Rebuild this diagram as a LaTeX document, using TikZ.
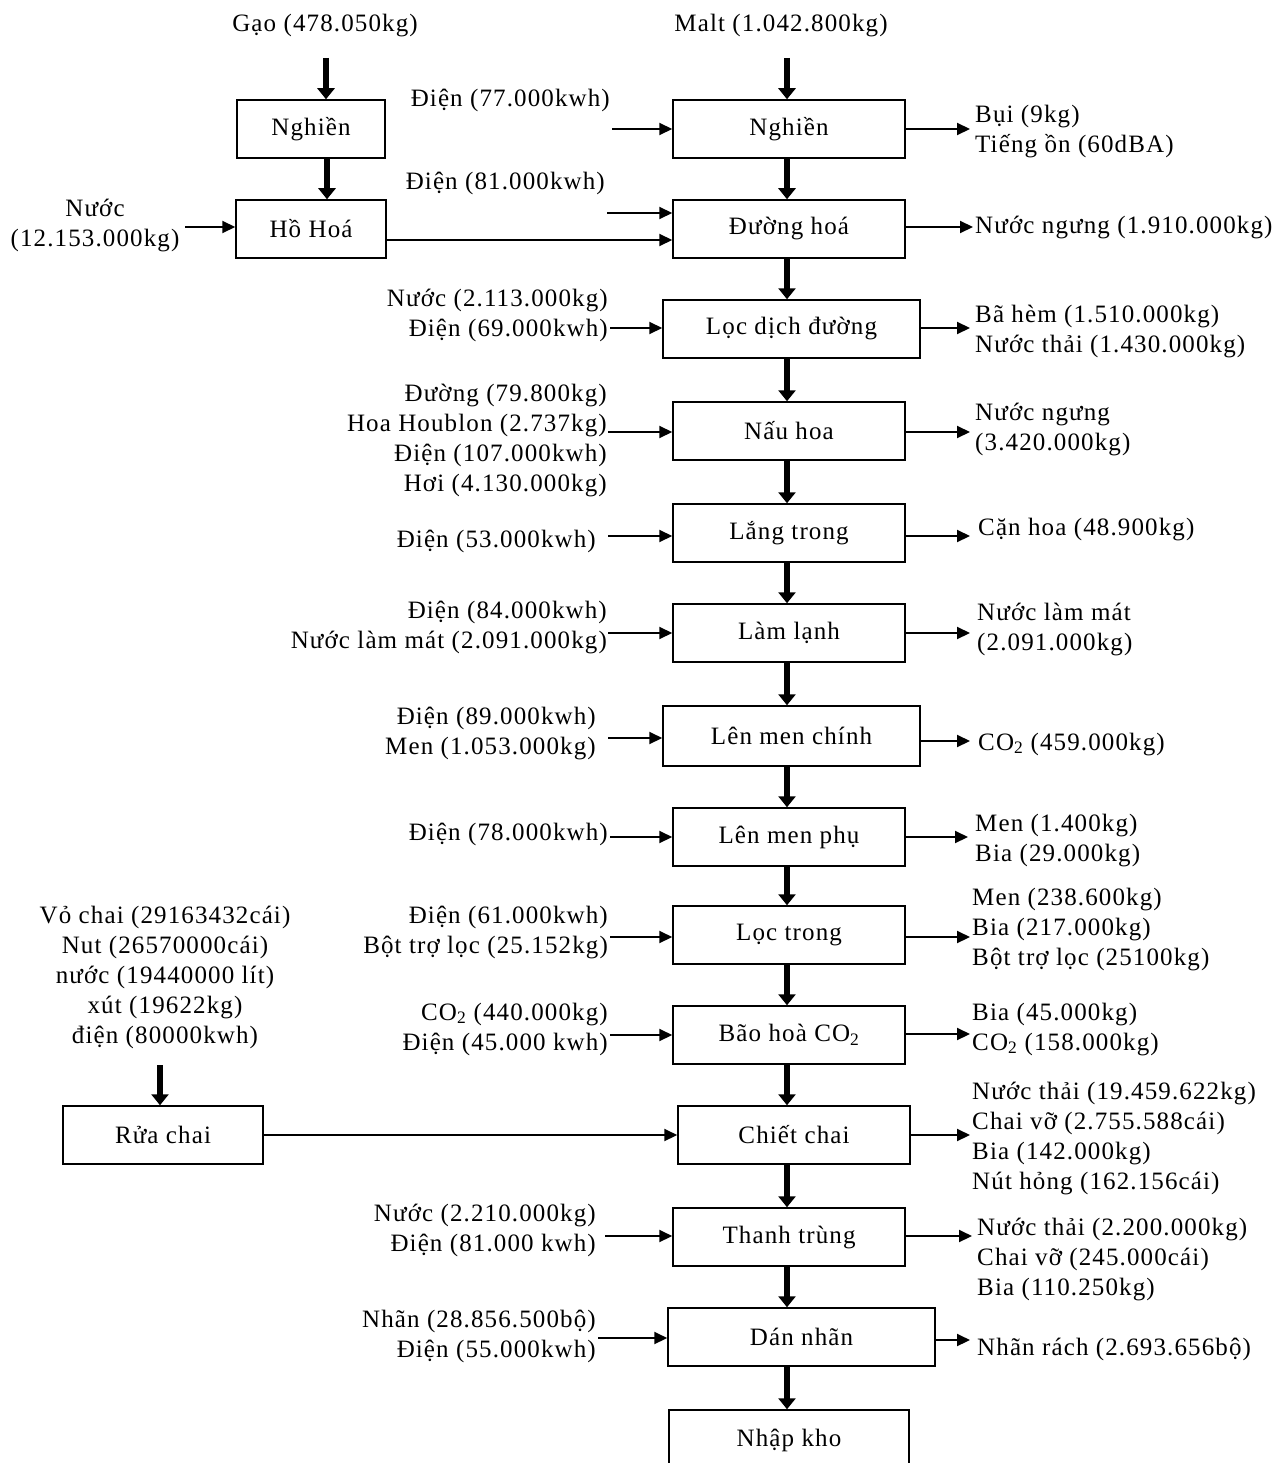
\documentclass[tikz,border=0pt]{standalone}
\usepackage{fontspec}
\setmainfont{Liberation Serif}[LetterSpace=4.5]
\usetikzlibrary{arrows.meta}
\newcommand\Rlines[1]{\vtop{\baselineskip=30pt\lineskiplimit=-1000pt\lineskip=0pt\halign{\hfil##\cr#1\crcr}}}
\newcommand\Llines[1]{\vtop{\baselineskip=30pt\lineskiplimit=-1000pt\lineskip=0pt\halign{##\hfil\cr#1\crcr}}}
\newcommand\Clines[1]{\vtop{\baselineskip=30pt\lineskiplimit=-1000pt\lineskip=0pt\halign{\hfil##\hfil\cr#1\crcr}}}
\newcommand\cotwo{CO\textsubscript{2}}
\begin{document}
\begin{tikzpicture}[x=1pt,y=-1pt,
  every node/.style={font=\fontsize{25}{30}\selectfont, inner sep=0pt},
  pbox/.style={draw, line width=1.5pt, minimum height=58pt},
  thn/.style={line width=2pt, -{Triangle[length=13pt,width=12pt]}},
  thk/.style={line width=6.5pt, -{Triangle[length=11pt,width=17pt]}},
  inl/.style={anchor=base east},
  outl/.style={anchor=base west}]
\useasboundingbox (0,0) rectangle (1283,1463);
\fill[white] (0,0) rectangle (1283,1463);

% ---------- process boxes ----------
\node[pbox, minimum width=148pt] (l1) at (311,129) {Nghiền};
\node[pbox, minimum width=150pt] (l2) at (311,229) {Hồ Hoá};
\node[pbox, minimum width=200pt] (rc) at (163,1135) {Rửa chai};

\node[pbox, minimum width=232pt] (m1) at (789,129) {Nghiền};
\node[pbox, minimum width=232pt] (m2) at (789,229) {Đường hoá};
\node[pbox, minimum width=257pt] (m3) at (791.5,329) {Lọc dịch đường};
\node[pbox, minimum width=232pt] (m4) at (789,431) {Nấu hoa};
\node[pbox, minimum width=232pt] (m5) at (789,533) {Lắng trong};
\node[pbox, minimum width=232pt] (m6) at (789,633) {Làm lạnh};
\node[pbox, minimum width=257pt, minimum height=60pt] (m7) at (791.5,736) {Lên men chính};
\node[pbox, minimum width=232pt] (m8) at (789,837) {Lên men phụ};
\node[pbox, minimum width=232pt] (m9) at (789,935) {Lọc trong};
\node[pbox, minimum width=232pt] (m10) at (789,1035) {Bão hoà \cotwo};
\node[pbox, minimum width=232pt] (m11) at (794,1135) {Chiết chai};
\node[pbox, minimum width=232pt] (m12) at (789,1237) {Thanh trùng};
\node[pbox, minimum width=267pt] (m13) at (801.5,1337) {Dán nhãn};
\node[pbox, minimum width=240pt, minimum height=60pt] (m14) at (789,1440) {Nhập kho};

% ---------- top inputs ----------
\node[anchor=base] (gao) at (325,32) {Gạo (478.050kg)};
\node[anchor=base] (malt) at (781,32) {Malt (1.042.800kg)};
\node[anchor=base] (nuoc0) at (95,217) {\Clines{Nước\cr(12.153.000kg)}};
\node[anchor=base] (rcin) at (165,923) {\Clines{Vỏ chai (29163432cái)\cr Nut (26570000cái)\cr nước (19440000 lít)\cr xút (19622kg)\cr điện (80000kwh)}};

% ---------- left inputs ----------
\node[inl] (in1) at (610,107) {Điện (77.000kwh)};
\node[inl] (in2) at (605,190) {Điện (81.000kwh)};
\node[inl] (in3) at (608,306) {\Rlines{Nước (2.113.000kg)\cr Điện (69.000kwh)}};
\node[inl] (in4) at (607,401) {\Rlines{Đường (79.800kg)\cr Hoa Houblon (2.737kg)\cr Điện (107.000kwh)\cr Hơi (4.130.000kg)}};
\node[inl] (in5) at (596,547) {Điện (53.000kwh)};
\node[inl] (in6) at (607,618) {\Rlines{Điện (84.000kwh)\cr Nước làm mát (2.091.000kg)}};
\node[inl] (in7) at (596,724) {\Rlines{Điện (89.000kwh)\cr Men (1.053.000kg)}};
\node[inl] (in8) at (608,840) {Điện (78.000kwh)};
\node[inl] (in9) at (608,923) {\Rlines{Điện (61.000kwh)\cr Bột trợ lọc (25.152kg)}};
\node[inl] (in10) at (608,1020) {\Rlines{\cotwo{} (440.000kg)\cr Điện (45.000 kwh)}};
\node[inl] (in12) at (596,1221) {\Rlines{Nước (2.210.000kg)\cr Điện (81.000 kwh)}};
\node[inl] (in13) at (596,1327) {\Rlines{Nhãn (28.856.500bộ)\cr Điện (55.000kwh)}};

% ---------- right outputs ----------
\node[outl] (o1) at (975,123) {\Llines{Bụi (9kg)\cr Tiếng ồn (60dBA)}};
\node[outl] (o2) at (975,234) {Nước ngưng (1.910.000kg)};
\node[outl] (o3) at (975,322) {\Llines{Bã hèm (1.510.000kg)\cr Nước thải (1.430.000kg)}};
\node[outl] (o4) at (975,420) {\Llines{Nước ngưng\cr(3.420.000kg)}};
\node[outl] (o5) at (978,535) {Cặn hoa (48.900kg)};
\node[outl] (o6) at (977,620) {\Llines{Nước làm mát\cr(2.091.000kg)}};
\node[outl] (o7) at (978,750) {\cotwo{} (459.000kg)};
\node[outl] (o8) at (975,831) {\Llines{Men (1.400kg)\cr Bia (29.000kg)}};
\node[outl] (o9) at (972,905) {\Llines{Men (238.600kg)\cr Bia (217.000kg)\cr Bột trợ lọc (25100kg)}};
\node[outl] (o10) at (972,1020) {\Llines{Bia (45.000kg)\cr\cotwo{} (158.000kg)}};
\node[outl] (o11) at (972,1099) {\Llines{Nước thải (19.459.622kg)\cr Chai vỡ (2.755.588cái)\cr Bia (142.000kg)\cr Nút hỏng (162.156cái)}};
\node[outl] (o12) at (977,1235) {\Llines{Nước thải (2.200.000kg)\cr Chai vỡ (245.000cái)\cr Bia (110.250kg)}};
\node[outl] (o13) at (977,1355) {Nhãn rách (2.693.656bộ)};

% ---------- thick flow arrows ----------
\coordinate (ax) at (787,0);
\coordinate (gx) at (327,0);
\coordinate (g0) at (326,58);
\coordinate (mt0) at (787,58);
\coordinate (r0) at (160,1065);
\draw[thk] (g0) -- (g0 |- l1.north);
\draw[thk] (l1.south -| gx) -- (l2.north -| gx);
\draw[thk] (mt0) -- (mt0 |- m1.north);
\draw[thk] (r0) -- (r0 |- rc.north);
\foreach \a/\b in {m1/m2,m2/m3,m3/m4,m4/m5,m5/m6,m6/m7,m7/m8,m8/m9,m9/m10,m10/m11,m11/m12,m12/m13,m13/m14}
  \draw[thk] (\a.south -| ax) -- (\b.north -| ax);

% ---------- thin input arrows ----------
\coordinate (s0) at (185,227);
\draw[thn] (s0) -- (s0 -| l2.west);
\coordinate (hh) at (0,240);
\draw[thn] (hh -| l2.east) -- (hh -| m2.west);
\draw[thn] (rc.east) -- (rc.east -| m11.west);
\foreach \n/\x/\y in {m1/612/129, m2/607/213, m3/610/328, m4/608/432, m5/608/536, m6/608/633, m7/608/738, m8/610/837, m9/610/937, m10/610/1035, m12/605/1236, m13/598/1338}
  {\coordinate (s\n) at (\x,\y);
   \draw[thn] (s\n) -- (s\n -| \n.west);}

% ---------- thin output arrows ----------
\foreach \n/\x/\y in {m1/970/129, m2/973/227, m3/970/328, m4/970/432, m5/970/536, m6/970/633, m7/970/741, m8/968/837, m9/970/937, m10/970/1034, m11/970/1135, m12/972/1236, m13/970/1340}
  {\coordinate (e\n) at (\x,\y);
   \draw[thn] (e\n -| \n.east) -- (e\n);}
\end{tikzpicture}
\end{document}
